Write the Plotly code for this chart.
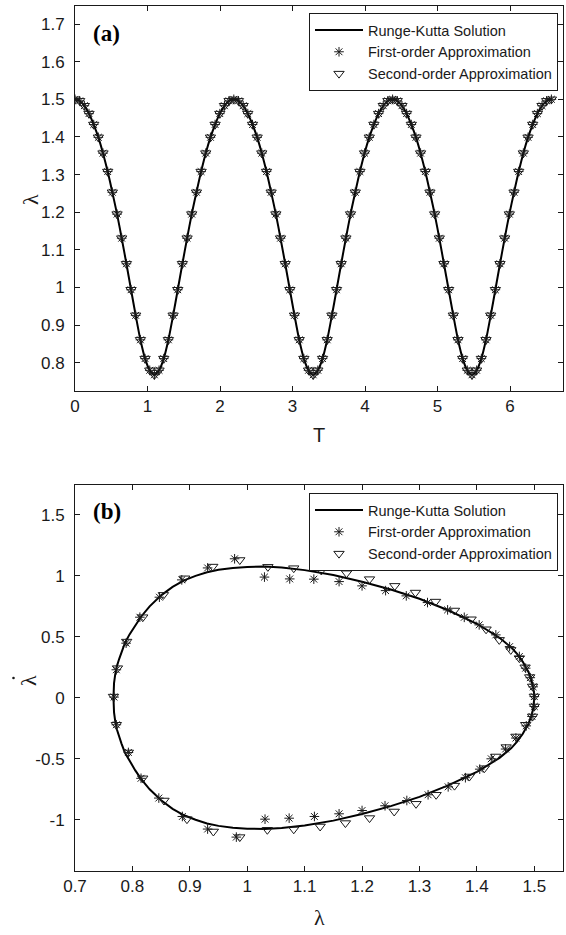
import plotly.graph_objects as go

# ---------------- Panel (a): lambda vs T ----------------
T_A = [0.000, 0.064, 0.129, 0.193, 0.258, 0.322, 0.386, 0.451, 0.515, 0.580, 0.644, 0.709, 0.773, 0.837, 0.902, 0.966, 1.031, 1.095,
       1.159, 1.224, 1.288, 1.353, 1.417, 1.481, 1.546, 1.610, 1.675, 1.739, 1.803, 1.868, 1.932, 1.997, 2.061, 2.125, 2.190,
       2.254, 2.319, 2.383, 2.448, 2.512, 2.576, 2.641, 2.705, 2.770, 2.834, 2.899, 2.963, 3.027, 3.092, 3.156, 3.221, 3.285,
       3.349, 3.414, 3.478, 3.543, 3.607, 3.671, 3.736, 3.800, 3.865, 3.929, 3.993, 4.058, 4.122, 4.187, 4.251, 4.315, 4.380,
       4.444, 4.509, 4.573, 4.638, 4.702, 4.766, 4.831, 4.895, 4.960, 5.024, 5.088, 5.153, 5.217, 5.282, 5.346, 5.410, 5.475,
       5.539, 5.604, 5.668, 5.733, 5.797, 5.861, 5.926, 5.990, 6.055, 6.119, 6.183, 6.248, 6.312, 6.377, 6.441, 6.505, 6.570]

LAM_RK_A = [1.500, 1.496, 1.483, 1.462, 1.433, 1.399, 1.357, 1.308, 1.253, 1.195, 1.131, 1.063, 0.994, 0.926, 0.861, 0.811, 0.780, 0.768,
            0.780, 0.811, 0.861, 0.926, 0.994, 1.063, 1.131, 1.195, 1.253, 1.308, 1.357, 1.399, 1.433, 1.462, 1.483, 1.496, 1.500,
            1.496, 1.483, 1.462, 1.433, 1.399, 1.357, 1.308, 1.253, 1.195, 1.131, 1.063, 0.994, 0.926, 0.861, 0.811, 0.780, 0.768,
            0.780, 0.811, 0.861, 0.926, 0.994, 1.063, 1.131, 1.195, 1.253, 1.308, 1.357, 1.399, 1.433, 1.462, 1.483, 1.496, 1.500,
            1.496, 1.483, 1.462, 1.433, 1.399, 1.357, 1.308, 1.253, 1.195, 1.131, 1.063, 0.994, 0.926, 0.861, 0.811, 0.780, 0.768,
            0.780, 0.811, 0.861, 0.926, 0.994, 1.063, 1.131, 1.195, 1.253, 1.308, 1.357, 1.399, 1.433, 1.462, 1.483, 1.496, 1.500]

# the approximations lie on the numerical curve in panel (a)
LAM_FIRST_A = list(LAM_RK_A)
LAM_SECOND_A = list(LAM_RK_A)

XTICKS_A = [0, 1, 2, 3, 4, 5, 6]
XTICKTEXT_A = ["0", "1", "2", "3", "4", "5", "6"]
YTICKS_A = [0.8, 0.9, 1.0, 1.1, 1.2, 1.3, 1.4, 1.5, 1.6, 1.7]
YTICKTEXT_A = ["0.8", "0.9", "1", "1.1", "1.2", "1.3", "1.4", "1.5", "1.6", "1.7"]

# ---------------- Panel (b): phase plane ----------------
RK_LAM_UP = [0.767, 0.768, 0.770, 0.773, 0.777, 0.781, 0.787, 0.795, 0.805, 0.815, 0.830, 0.850, 0.870, 0.890, 0.910, 0.930, 0.950, 0.975,
             1.000, 1.030, 1.060, 1.100, 1.150, 1.200, 1.250, 1.300, 1.350, 1.400, 1.420, 1.440, 1.460, 1.470, 1.480, 1.490, 1.495, 1.498,
             1.4995, 1.500]
RK_DLAM_UP = [0.000, 0.120, 0.190, 0.260, 0.320, 0.375, 0.450, 0.520, 0.595, 0.665, 0.750, 0.840, 0.910, 0.963, 1.000, 1.030, 1.050, 1.065,
              1.073, 1.076, 1.068, 1.047, 1.007, 0.952, 0.888, 0.812, 0.718, 0.607, 0.550, 0.490, 0.412, 0.360, 0.295, 0.210, 0.148, 0.092,
              0.046, 0.000]
RK_LAM_DN = [1.4995, 1.498, 1.495, 1.490, 1.480, 1.470, 1.460, 1.440, 1.420, 1.400, 1.350, 1.300, 1.250, 1.200, 1.150, 1.100, 1.060, 1.030,
             1.000, 0.975, 0.950, 0.930, 0.910, 0.890, 0.870, 0.850, 0.830, 0.815, 0.805, 0.795, 0.787, 0.781, 0.777, 0.773, 0.770, 0.768,
             0.767]
RK_DLAM_DN = [-0.046, -0.092, -0.148, -0.210, -0.295, -0.360, -0.412, -0.490, -0.550, -0.607, -0.718, -0.812, -0.888, -0.952, -1.007, -1.047, -1.068, -1.076,
              -1.073, -1.065, -1.050, -1.030, -1.000, -0.963, -0.910, -0.840, -0.750, -0.665, -0.595, -0.520, -0.450, -0.375, -0.320, -0.260, -0.190, -0.120,
              0.000]

FIRST_LAM_B = [0.768, 0.772, 0.789, 0.813, 0.847, 0.886, 0.931, 0.978, 1.030, 1.074, 1.116, 1.160, 1.200, 1.241, 1.277, 1.314, 1.349, 1.378,
               1.404, 1.433, 1.457, 1.474, 1.485, 1.493, 1.498, 1.500,
               1.500, 1.496, 1.486, 1.468, 1.450, 1.425, 1.405, 1.380, 1.350, 1.315, 1.278, 1.240, 1.200, 1.160, 1.117, 1.073, 1.031, 0.981,
               0.931, 0.887, 0.846, 0.815, 0.793, 0.772]
FIRST_DLAM_B = [0.006, 0.230, 0.448, 0.661, 0.825, 0.967, 1.065, 1.140, 0.990, 0.975, 0.973, 0.953, 0.918, 0.879, 0.836, 0.781, 0.721, 0.660,
                0.598, 0.516, 0.420, 0.339, 0.243, 0.165, 0.090, 0.010,
                -0.071, -0.153, -0.230, -0.330, -0.420, -0.500, -0.585, -0.655, -0.730, -0.795, -0.842, -0.885, -0.924, -0.951, -0.973, -0.987, -0.995, -1.142,
                -1.076, -0.973, -0.822, -0.660, -0.448, -0.221]

SECOND_LAM_B = [0.767, 0.774, 0.790, 0.818, 0.854, 0.891, 0.940, 0.987, 1.036, 1.081, 1.129, 1.173, 1.213, 1.257, 1.293, 1.328, 1.361, 1.390,
                1.416, 1.439, 1.459, 1.474, 1.484, 1.492, 1.497, 1.500,
                1.500, 1.497, 1.485, 1.468, 1.451, 1.433, 1.413, 1.387, 1.361, 1.329, 1.294, 1.256, 1.213, 1.171, 1.127, 1.081, 1.035, 0.987,
                0.941, 0.895, 0.855, 0.818, 0.793, 0.772]
SECOND_DLAM_B = [0.010, 0.243, 0.461, 0.661, 0.844, 0.980, 1.076, 1.130, 1.074, 1.063, 1.044, 1.022, 0.973, 0.918, 0.863, 0.789, 0.716, 0.644,
                 0.562, 0.475, 0.393, 0.325, 0.250, 0.170, 0.093, 0.011,
                 -0.071, -0.153, -0.221, -0.317, -0.404, -0.481, -0.577, -0.645, -0.720, -0.795, -0.869, -0.932, -0.986, -1.027, -1.055, -1.078, -1.082, -1.142,
                 -1.096, -0.995, -0.842, -0.660, -0.448, -0.221]

XTICKS_B = [0.7, 0.8, 0.9, 1.0, 1.1, 1.2, 1.3, 1.4, 1.5]
XTICKTEXT_B = ["0.7", "0.8", "0.9", "1", "1.1", "1.2", "1.3", "1.4", "1.5"]
YTICKS_B = [-1, -0.5, 0, 0.5, 1, 1.5]
YTICKTEXT_B = ["-1", "-0.5", "0", "0.5", "1", "1.5"]

NAMES = ["Runge-Kutta Solution", "First-order Approximation", "Second-order Approximation"]

# ---------------- Figure ----------------
INK = "#1a1a1a"
SANS = "Liberation Sans, Arial, sans-serif"
SERIF = "Liberation Serif, Times New Roman, serif"

fig = go.Figure()

fig.add_trace(go.Scatter(x=T_A, y=LAM_RK_A, mode="lines", name=NAMES[0],
                         line=dict(color="black", width=2, shape="spline", smoothing=0.8),
                         xaxis="x", yaxis="y", legend="legend"))
fig.add_trace(go.Scatter(x=T_A, y=LAM_FIRST_A, mode="markers", name=NAMES[1],
                         marker=dict(symbol="asterisk-open", size=8, color=INK, line=dict(color=INK, width=1)),
                         xaxis="x", yaxis="y", legend="legend"))
fig.add_trace(go.Scatter(x=T_A, y=LAM_SECOND_A, mode="markers", name=NAMES[2],
                         marker=dict(symbol="triangle-down-open", size=9, color=INK, line=dict(color=INK, width=1)),
                         xaxis="x", yaxis="y", legend="legend"))

fig.add_trace(go.Scatter(x=RK_LAM_UP + RK_LAM_DN, y=RK_DLAM_UP + RK_DLAM_DN, mode="lines", name=NAMES[0],
                         line=dict(color="black", width=2),
                         xaxis="x2", yaxis="y2", legend="legend2"))
fig.add_trace(go.Scatter(x=FIRST_LAM_B, y=FIRST_DLAM_B, mode="markers", name=NAMES[1],
                         marker=dict(symbol="asterisk-open", size=8, color=INK, line=dict(color=INK, width=1)),
                         xaxis="x2", yaxis="y2", legend="legend2"))
fig.add_trace(go.Scatter(x=SECOND_LAM_B, y=SECOND_DLAM_B, mode="markers", name=NAMES[2],
                         marker=dict(symbol="triangle-down-open", size=9, color=INK, line=dict(color=INK, width=1)),
                         xaxis="x2", yaxis="y2", legend="legend2"))

axis_common = dict(ticks="inside", ticklen=5, tickcolor=INK, tickwidth=1,
                   showline=True, linecolor=INK, linewidth=1, mirror="ticks",
                   showgrid=False, zeroline=False, automargin=False,
                   tickfont=dict(family=SANS, size=17, color=INK))

W, H = 566, 935
ML, MR, MT, MB = 75, 3, 6, 64
PW, PH = W - ML - MR, H - MT - MB

def px(xp):
    return (xp - ML) / PW

def py(yp):
    return 1 - (yp - MT) / PH

legend_common = dict(xanchor="right", yanchor="top", bgcolor="white",
                     bordercolor=INK, borderwidth=1, font=dict(family=SANS, size=14.5, color=INK),
                     itemwidth=48, tracegroupgap=0)

fig.update_layout(
    width=W, height=H, margin=dict(l=ML, r=MR, t=MT, b=MB, autoexpand=False),
    paper_bgcolor="white", plot_bgcolor="white", showlegend=True,
    xaxis=dict(domain=[0, 1], anchor="y", range=[0, 6.73], tickvals=XTICKS_A, ticktext=XTICKTEXT_A, **axis_common),
    yaxis=dict(domain=[py(391), 1], anchor="x", range=[0.725, 1.748], tickvals=YTICKS_A, ticktext=YTICKTEXT_A,
               ticklabelstandoff=6, **axis_common),
    xaxis2=dict(domain=[0, 1], anchor="y2", range=[0.7, 1.55], tickvals=XTICKS_B, ticktext=XTICKTEXT_B, **axis_common),
    yaxis2=dict(domain=[0, py(485)], anchor="x2", range=[-1.42, 1.745], tickvals=YTICKS_B, ticktext=YTICKTEXT_B,
                ticklabelstandoff=6, **axis_common),
    legend=dict(x=px(558), y=py(13), **legend_common),
    legend2=dict(x=px(558), y=py(493), **legend_common),
)

ann = [
    dict(text="<b>(a)</b>", x=px(91), y=py(33), xanchor="left", yanchor="middle",
         font=dict(family=SERIF, size=23, color="black")),
    dict(text="<b>(b)</b>", x=px(91), y=py(511), xanchor="left", yanchor="middle",
         font=dict(family=SERIF, size=23, color="black")),
    dict(text="T", x=0.5, y=py(435), xanchor="center", yanchor="middle",
         font=dict(family=SANS, size=20, color=INK)),
    dict(text="\u03bb", x=0.5, y=py(917), xanchor="center", yanchor="middle",
         font=dict(family=SERIF, size=22, color=INK)),
    dict(text="\u03bb", x=px(30), y=py(200), xanchor="center", yanchor="middle", textangle=-90,
         font=dict(family=SERIF, size=22, color=INK)),
    dict(text="\u03bb", x=px(28), y=py(681), xanchor="center", yanchor="middle", textangle=-90,
         font=dict(family=SERIF, size=22, color=INK)),
]
for a in ann:
    a.update(xref="paper", yref="paper", showarrow=False)
fig.update_layout(annotations=ann)

# the dot of the time-derivative symbol on the lower y-axis title
fig.add_shape(type="circle", xref="paper", yref="paper",
              x0=px(12.2), x1=px(14.8), y0=py(679.3), y1=py(676.7),
              fillcolor=INK, line=dict(color=INK, width=0))

fig.write_html("out.html", config={"displayModeBar": False},
               post_script="document.body.style.margin='0px';document.body.style.padding='0px';"
                           "document.body.style.overflow='hidden';")
